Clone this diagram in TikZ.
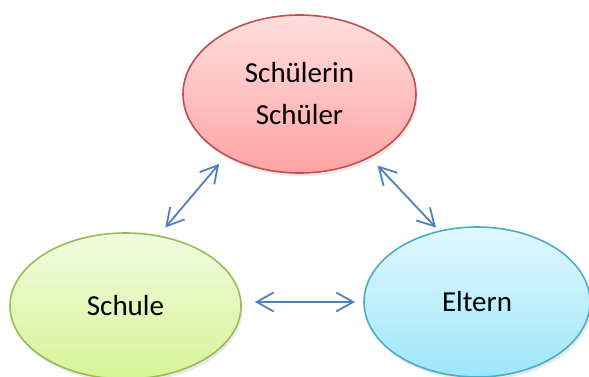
\documentclass[tikz,border=0pt]{standalone}
\usepackage{fontspec}
\setmainfont{Carlito}
\usetikzlibrary{arrows.meta,shapes.geometric,shadows}

\definecolor{pupiltop}{RGB}{255,222,222}
\definecolor{pupilbot}{RGB}{255,164,164}
\definecolor{pupilline}{RGB}{192,80,77}
\definecolor{schooltop}{RGB}{242,251,224}
\definecolor{schoolbot}{RGB}{214,244,150}
\definecolor{schoolline}{RGB}{155,187,89}
\definecolor{parenttop}{RGB}{226,248,255}
\definecolor{parentbot}{RGB}{158,230,250}
\definecolor{parentline}{RGB}{75,172,198}
\definecolor{linkblue}{RGB}{79,129,189}

\tikzset{
  bubble/.style={ellipse, draw, line width=0.8pt, outer sep=0pt, inner sep=0pt,
    align=center, font=\fontsize{14.5}{21}\selectfont,
    drop shadow={opacity=0.18, shadow xshift=0.8pt, shadow yshift=-1.6pt}},
  link/.style={draw=linkblue, line width=0.9pt,
    {Straight Barb[length=8.5pt,width=9.5pt]}-{Straight Barb[length=8.5pt,width=9.5pt]}}
}

\begin{document}
\begin{tikzpicture}[x=0.5pt,y=-0.5pt]
\useasboundingbox (0,0) rectangle (589,376);
\node[bubble, draw=pupilline, top color=pupiltop, bottom color=pupilbot,
  minimum width=116.5pt, minimum height=79pt] (pupil) at (299.5,94) {Schülerin\\Schüler};
\node[bubble, draw=schoolline, top color=schooltop, bottom color=schoolbot,
  minimum width=115.5pt, minimum height=73pt] (school) at (125.5,306) {Schule};
\node[bubble, draw=parentline, top color=parenttop, bottom color=parentbot,
  minimum width=113pt, minimum height=75pt] (parents) at (477,302) {Eltern};
\draw[link, shorten <=5.5pt, shorten >=5.5pt] (school.65) -- (pupil.220);
\draw[link, shorten <=5.8pt, shorten >=2.5pt] (pupil.318) -- (parents.118.7);
\draw[link, shorten <=7pt, shorten >=4.5pt] (school.2) -- (school.2 -| parents.west);
\end{tikzpicture}
\end{document}
